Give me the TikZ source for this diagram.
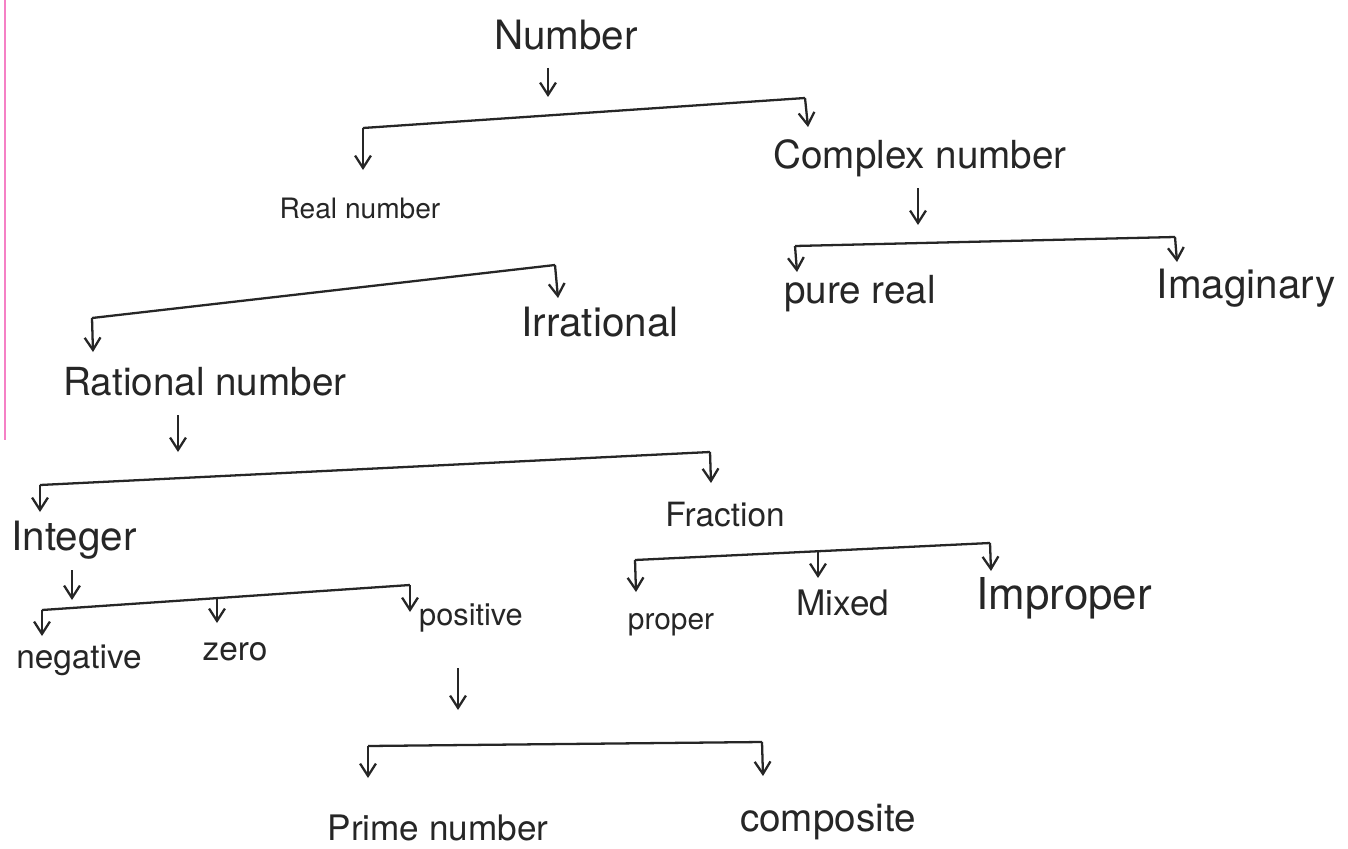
\documentclass[tikz,border=0pt]{standalone}
\usepackage{fontspec}
\setmainfont{TeX Gyre Heros}
\usetikzlibrary{arrows.meta}
\begin{document}
\begin{tikzpicture}[x=0.02cm,y=-0.02cm,
  lbl/.style={font=\fontsize{#1}{#1}\selectfont, inner sep=1pt, text=black!85},
  lbl/.default=17,
  arr/.style={draw=black!85, line width=1.3pt, -{Straight Barb[length=7pt,width=9pt]}},
  bar/.style={draw=black!85, line width=1.3pt}]
\useasboundingbox (0,0) rectangle (1348,848);
\fill[white] (0,0) rectangle (1348,848);
\draw[magenta!50, line width=1.2pt] (5,0) -- (5,440);

% labels
\node[lbl=23] (num) at (566,35) {Number};
\node[lbl=16] (real) at (360,208) {Real number};
\node[lbl=22] (cplx) at (920,158) {Complex number};
\node[lbl=22] (pure) at (860,294) {pure real};
\node[lbl=23] (imag) at (1246,288) {Imaginary};
\node[lbl=23] (irr) at (600,322) {Irrational};
\node[lbl=22] (rat) at (205,382) {Rational number};
\node[lbl=23] (int) at (74,540) {Integer};
\node[lbl=19] (frac) at (725,515) {Fraction};
\node[lbl=19] (neg) at (79,660) {negative};
\node[lbl=19] (zero) at (235,652) {zero};
\node[lbl=17.5] (pos) at (471,618) {positive};
\node[lbl=17] (prop) at (671,625) {proper};
\node[lbl=20] (mix) at (843,603) {Mixed};
\node[lbl=25] (impr) at (1064,598) {Improper};
\node[lbl=20] (prime) at (438,828) {Prime number};
\node[lbl=22] (comp) at (828,822) {composite};

% Number
\coordinate (n1) at (548,68); \coordinate (n2) at (548,97);
\draw[arr] (n1) -- (n2);
\coordinate (nL) at (363,128); \coordinate (nR) at (805,98);
\draw[bar] (nL) -- (nR);
\coordinate (nLe) at (363,170); \coordinate (nRe) at (808,127);
\draw[arr] (nL) -- (nLe);
\draw[arr] (nR) -- (nRe);

% Complex
\coordinate (c1) at (918,188); \coordinate (c2) at (918,225);
\draw[arr] (c1) -- (c2);
\coordinate (cL) at (795,246); \coordinate (cR) at (1175,237);
\draw[bar] (cL) -- (cR);
\coordinate (cLe) at (797,272); \coordinate (cRe) at (1177,262);
\draw[arr] (cL) -- (cLe);
\draw[arr] (cR) -- (cRe);

% Real
\coordinate (rL) at (92,318); \coordinate (rR) at (555,265);
\draw[bar] (rL) -- (rR);
\coordinate (rLe) at (93,352); \coordinate (rRe) at (558,298);
\draw[arr] (rL) -- (rLe);
\draw[arr] (rR) -- (rRe);

% Rational
\coordinate (q1) at (178,415); \coordinate (q2) at (178,452);
\draw[arr] (q1) -- (q2);
\coordinate (qL) at (40,485); \coordinate (qR) at (710,452);
\draw[bar] (qL) -- (qR);
\coordinate (qLe) at (40,512); \coordinate (qRe) at (711,483);
\draw[arr] (qL) -- (qLe);
\draw[arr] (qR) -- (qRe);

% Integer
\coordinate (i1) at (72,570); \coordinate (i2) at (72,600);
\draw[arr] (i1) -- (i2);
\coordinate (iL) at (42,610); \coordinate (iR) at (410,585);
\draw[bar] (iL) -- (iR);
\coordinate (iLe) at (42,636); \coordinate (iRe) at (410,612);
\coordinate (iM) at (217,598); \coordinate (iMe) at (217,623);
\draw[arr] (iL) -- (iLe);
\draw[arr] (iM) -- (iMe);
\draw[arr] (iR) -- (iRe);

% Positive
\coordinate (p1) at (458,668); \coordinate (p2) at (458,710);
\draw[arr] (p1) -- (p2);
\coordinate (pL) at (368,746); \coordinate (pR) at (762,742);
\draw[bar] (pL) -- (pR);
\coordinate (pLe) at (368,778); \coordinate (pRe) at (763,776);
\draw[arr] (pL) -- (pLe);
\draw[arr] (pR) -- (pRe);

% Fraction
\coordinate (fL) at (635,560); \coordinate (fR) at (990,543);
\draw[bar] (fL) -- (fR);
\coordinate (fLe) at (636,592); \coordinate (fRe) at (991,571);
\coordinate (fM) at (818,552); \coordinate (fMe) at (818,578);
\draw[arr] (fL) -- (fLe);
\draw[arr] (fM) -- (fMe);
\draw[arr] (fR) -- (fRe);
\end{tikzpicture}
\end{document}
